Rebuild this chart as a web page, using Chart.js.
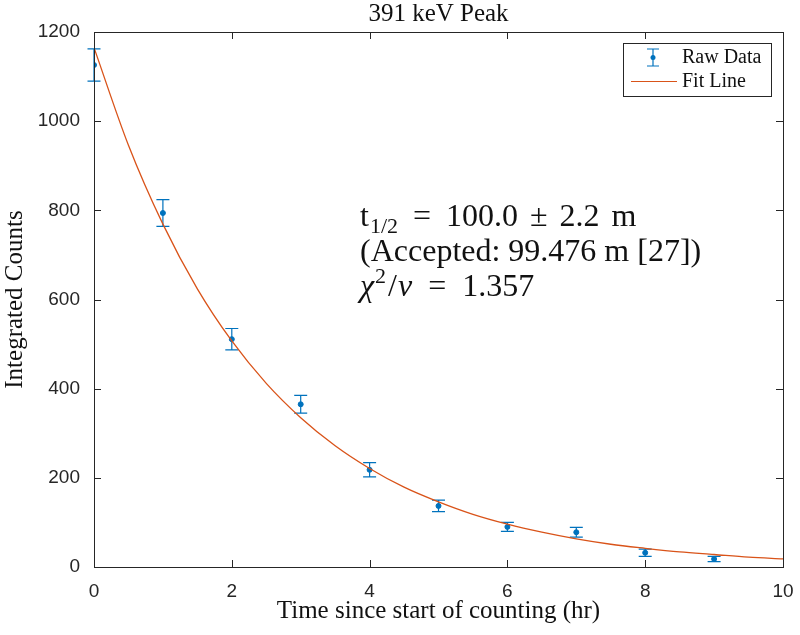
<!DOCTYPE html>
<html>
<head>
<meta charset="utf-8">
<script src="https://cdn.jsdelivr.net/npm/chart.js@4.4.1/dist/chart.umd.min.js"></script>
<style>
  html, body { margin: 0; padding: 0; background: #fff; }
  #wrap { width: 800px; height: 635px; }
</style>
</head>
<body>
<div id="wrap"><canvas id="decayChart" width="800" height="635"></canvas></div>
<script>
// measured points (hours since start, integrated counts, +/- error)
const hours = [0, 1, 2, 3, 4, 5, 6, 7, 8, 9];
const counts = [1126, 794, 511, 365, 218, 137, 90, 78, 32, 18];
const countErrors = [36, 30, 24, 20, 16, 13, 10, 11, 8, 6];

// fit curve
const fitHours = [0, 0.5, 1, 1.5, 2, 2.5, 3, 3.5, 4, 4.5, 5, 5.5, 6, 6.5, 7, 7.5, 8, 8.5, 9, 9.5, 10];
const fitCounts = [1165, 946, 769, 624, 507, 412, 335, 272, 221, 179, 146, 118, 96, 78, 63, 51, 42, 34, 28, 22, 18];

const titleText = "391 keV Peak";
const xLabel = "Time since start of counting (hr)";
const yLabel = "Integrated Counts";
const legendLabels = ["Raw Data", "Fit Line"];

const blue = "#0072BD";
const orange = "#D95319";
const axisColor = "#262626";
const serif = '"Liberation Serif", "Times New Roman", serif';
const sans = '"Liberation Sans", Arial, sans-serif';

const errorBarPlugin = {
  id: "errorBars",
  beforeDatasetsDraw(chart) {
    const { ctx, scales: { x, y } } = chart;
    ctx.save();
    ctx.strokeStyle = blue;
    ctx.lineWidth = 1.2;
    hours.forEach((h, i) => {
      const px = x.getPixelForValue(h);
      const top = y.getPixelForValue(counts[i] + countErrors[i]);
      const bot = y.getPixelForValue(counts[i] - countErrors[i]);
      ctx.beginPath();
      ctx.moveTo(px, top);
      ctx.lineTo(px, bot);
      ctx.moveTo(px - 6.5, top);
      ctx.lineTo(px + 6.5, top);
      ctx.moveTo(px - 6.5, bot);
      ctx.lineTo(px + 6.5, bot);
      ctx.stroke();
    });
    ctx.restore();
  },
};

// draw a run of text pieces (for sub/superscripts)
const drawPieces = (ctx, x, y, pieces) => {
  pieces.forEach((p) => {
    ctx.font = p.font;
    x += p.before || 0;
    ctx.fillText(p.text, x, y + (p.dy || 0));
    x += ctx.measureText(p.text).width + (p.after || 0);
  });
};

const boxPlugin = {
  id: "matlabBox",
  afterDraw(chart) {
    const { ctx, chartArea: a, scales: { x, y } } = chart;
    const tick = 7;
    ctx.save();
    ctx.strokeStyle = axisColor;
    ctx.lineWidth = 1;
    ctx.strokeRect(Math.round(a.left) + 0.5, Math.round(a.top) + 0.5,
      Math.round(a.right - a.left), Math.round(a.bottom - a.top));
    ctx.beginPath();
    x.ticks.forEach((t) => {
      const px = Math.round(x.getPixelForValue(t.value)) + 0.5;
      ctx.moveTo(px, a.bottom);
      ctx.lineTo(px, a.bottom - tick);
      ctx.moveTo(px, a.top);
      ctx.lineTo(px, a.top + tick);
    });
    y.ticks.forEach((t) => {
      const py = Math.round(y.getPixelForValue(t.value)) + 0.5;
      ctx.moveTo(a.left, py);
      ctx.lineTo(a.left + tick, py);
      ctx.moveTo(a.right, py);
      ctx.lineTo(a.right - tick, py);
    });
    ctx.stroke();

    // title
    ctx.fillStyle = "#111";
    ctx.font = `25px ${serif}`;
    ctx.textAlign = "center";
    ctx.textBaseline = "alphabetic";
    ctx.fillText(titleText, (a.left + a.right) / 2, 21);

    // legend
    const lx = a.right - 160, ly = a.top + 11, lw = 148, lh = 53;
    ctx.fillStyle = "#fff";
    ctx.fillRect(lx, ly, lw, lh);
    ctx.strokeStyle = axisColor;
    ctx.strokeRect(lx + 0.5, ly + 0.5, lw, lh);
    ctx.strokeStyle = blue;
    ctx.lineWidth = 1.2;
    const ex = lx + 30;
    ctx.beginPath();
    ctx.moveTo(ex, ly + 6);
    ctx.lineTo(ex, ly + 23);
    ctx.moveTo(ex - 6, ly + 6);
    ctx.lineTo(ex + 6, ly + 6);
    ctx.moveTo(ex - 6, ly + 23);
    ctx.lineTo(ex + 6, ly + 23);
    ctx.stroke();
    ctx.fillStyle = blue;
    ctx.beginPath();
    ctx.arc(ex, ly + 14.5, 2.5, 0, Math.PI * 2);
    ctx.fill();
    ctx.strokeStyle = orange;
    ctx.beginPath();
    ctx.moveTo(lx + 8, ly + 38.5);
    ctx.lineTo(lx + 54, ly + 38.5);
    ctx.stroke();
    ctx.fillStyle = "#111";
    ctx.font = `20px ${serif}`;
    ctx.textAlign = "left";
    ctx.fillText(legendLabels[0], lx + 59, ly + 20);
    ctx.fillText(legendLabels[1], lx + 59, ly + 44);

    // fit annotation
    const big = `32px ${serif}`;
    const small = `22px ${serif}`;
    const bigIt = `italic 32px ${serif}`;
    const tx = 360;
    drawPieces(ctx, tx, 226, [
      { text: "t", font: big, after: 1 },
      { text: "1/2", font: small, dy: 7 },
      { text: "=", font: big, before: 15, after: 15 },
      { text: "100.0", font: big },
      { text: "±", font: big, before: 12, after: 12 },
      { text: "2.2", font: big },
      { text: "m", font: big, before: 12 },
    ]);
    drawPieces(ctx, tx, 261, [
      { text: "(Accepted: 99.476 m [27])", font: big },
    ]);
    drawPieces(ctx, tx, 296, [
      { text: "χ", font: bigIt, after: 1 },
      { text: "2", font: small, dy: -13, after: 2 },
      { text: "/", font: big, after: 1 },
      { text: "ν", font: bigIt },
      { text: "=", font: big, before: 16, after: 16 },
      { text: "1.357", font: big },
    ]);
    ctx.restore();
  },
};

new Chart(document.getElementById("decayChart"), {
  type: "scatter",
  data: {
    datasets: [
      {
        label: legendLabels[1],
        type: "line",
        data: fitHours.map((h, i) => ({ x: h, y: fitCounts[i] })),
        borderColor: orange,
        borderWidth: 1.3,
        pointRadius: 0,
        cubicInterpolationMode: "monotone",
        fill: false,
        order: 0,
      },
      {
        label: legendLabels[0],
        data: hours.map((h, i) => ({ x: h, y: counts[i] })),
        backgroundColor: blue,
        borderColor: blue,
        pointRadius: 2.5,
        order: 1,
      },
    ],
  },
  options: {
    responsive: false,
    animation: false,
    devicePixelRatio: 1,
    layout: { padding: { left: 0, right: 17, top: 32, bottom: 0 } },
    plugins: {
      legend: { display: false },
      tooltip: { enabled: false },
      title: { display: false },
    },
    scales: {
      x: {
        type: "linear",
        min: 0,
        max: 10,
        grid: { display: false, drawTicks: false },
        border: { display: false },
        ticks: {
          stepSize: 2,
          padding: 13,
          color: axisColor,
          font: { family: sans, size: 19 },
          callback: (v) => String(v),
        },
        title: {
          display: true,
          text: xLabel,
          color: "#111",
          font: { family: serif, size: 25 },
          padding: { top: 0, bottom: 9 },
        },
        afterFit: (scale) => {
          scale.height = 68;
          scale.paddingLeft = 0;
          scale.paddingRight = 0;
        },
      },
      y: {
        min: 0,
        max: 1200,
        grid: { display: false, drawTicks: false },
        border: { display: false },
        ticks: {
          stepSize: 200,
          padding: 14,
          color: axisColor,
          font: { family: sans, size: 19 },
          callback: (v) => String(v),
        },
        title: {
          display: true,
          text: yLabel,
          color: "#111",
          font: { family: serif, size: 25 },
          padding: { top: 0, bottom: 0 },
        },
        afterFit: (scale) => {
          scale.width = 94;
          scale.paddingTop = 0;
          scale.paddingBottom = 0;
        },
      },
    },
  },
  plugins: [errorBarPlugin, boxPlugin],
});
</script>
</body>
</html>
